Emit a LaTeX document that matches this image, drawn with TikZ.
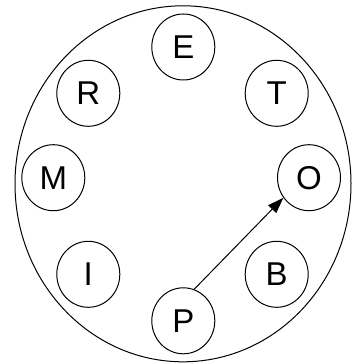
\documentclass[tikz,border=0pt]{standalone}
\usepackage{fontspec}
\setmainfont{Liberation Sans}
\usetikzlibrary{shapes.geometric,arrows.meta}

\begin{document}
\begin{tikzpicture}[
    x=1pt, y=-1pt,
    ring/.style={ellipse, draw, line width=1pt, minimum width=336pt, minimum height=356pt, inner sep=0pt},
    letter/.style={ellipse, draw, line width=1pt, minimum width=63pt, minimum height=66pt, inner sep=0pt, font=\fontsize{33}{39}\selectfont},
    arrow/.style={-{Triangle[length=16pt,width=11pt]}, line width=1pt}
]
    \useasboundingbox (0,0) rectangle (356,363);

    % Outer ring
    \node[ring] (ring) at (183,183.8) {};

    % Letters round the ring
    \node[letter] (e) at (183.3,47) {E};
    \node[letter] (t) at (276.7,93.3) {T};
    \node[letter] (o) at (309,177.7) {O};
    \node[letter] (b) at (276.7,274.3) {B};
    \node[letter] (p) at (183.3,320.8) {P};
    \node[letter] (i) at (88.3,274.3) {I};
    \node[letter] (m) at (53.3,177.7) {M};
    \node[letter] (r) at (88.3,93.3) {R};

    % Arrow
    \draw[arrow] (p.71) -- (o.218);
\end{tikzpicture}
\end{document}
